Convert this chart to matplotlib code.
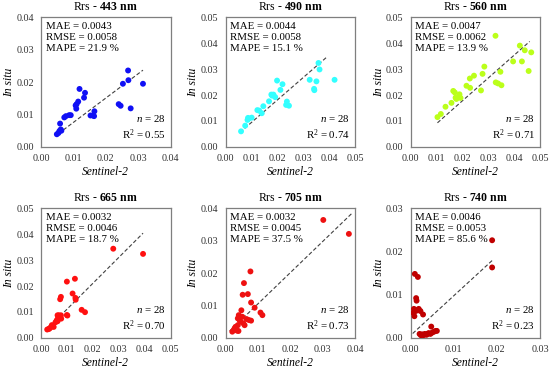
import matplotlib
matplotlib.use('Agg')
import matplotlib.pyplot as plt

plt.rcParams['font.family'] = ['Liberation Serif', 'DejaVu Serif']
plt.rcParams['mathtext.fontset'] = 'custom'
plt.rcParams['mathtext.rm'] = 'Liberation Serif'
plt.rcParams['mathtext.it'] = 'Liberation Serif:italic'
plt.rcParams['mathtext.bf'] = 'Liberation Serif:bold'

# ---- data ----
bands = ['443', '490', '560', '665', '705', '740']
colors = ['#1010f5', '#33ffff', '#bbff1a', '#ff1010', '#ee1111', '#c00000']
limits = [0.04, 0.05, 0.05, 0.05, 0.04, 0.03]
mae = ['0.0043', '0.0044', '0.0047', '0.0032', '0.0032', '0.0046']
rmse = ['0.0058', '0.0058', '0.0062', '0.0046', '0.0045', '0.0053']
mape = ['21.9', '15.1', '13.9', '18.7', '37.5', '85.6']
r2 = ['0.55', '0.74', '0.71', '0.70', '0.73', '0.23']
n_obs = [28, 28, 28, 28, 28, 28]

x443 = [0.0049, 0.0057, 0.0061, 0.0059, 0.0072, 0.0077, 0.0087, 0.0092, 0.0109, 0.0110,
        0.0115, 0.0119, 0.0133, 0.0136, 0.0153, 0.0161, 0.0165, 0.0164, 0.0240, 0.0246,
        0.0253, 0.0269, 0.0270, 0.0277, 0.0315, 0.0054, 0.0107, 0.0063]
y443 = [0.0039, 0.0049, 0.0054, 0.0072, 0.0091, 0.0095, 0.0098, 0.0098, 0.0118, 0.0132,
        0.0140, 0.0179, 0.0152, 0.0167, 0.0097, 0.0097, 0.0110, 0.0095, 0.0132, 0.0127,
        0.0195, 0.0236, 0.0206, 0.0119, 0.0195, 0.0043, 0.0128, 0.0050]

x490 = [0.0060, 0.0076, 0.0085, 0.0089, 0.0101, 0.0123, 0.0130, 0.0140, 0.0146, 0.0168,
        0.0177, 0.0185, 0.0192, 0.0199, 0.0212, 0.0220, 0.0234, 0.0237, 0.0245, 0.0325,
        0.0342, 0.0343, 0.0351, 0.0359, 0.0363, 0.0421, 0.0180, 0.0087]
y490 = [0.0060, 0.0082, 0.0104, 0.0109, 0.0113, 0.0142, 0.0140, 0.0130, 0.0157, 0.0176,
        0.0202, 0.0202, 0.0192, 0.0256, 0.0220, 0.0242, 0.0162, 0.0175, 0.0159, 0.0259,
        0.0224, 0.0219, 0.0253, 0.0324, 0.0299, 0.0259, 0.0198, 0.0112]

x560 = [0.0104, 0.0117, 0.0135, 0.0158, 0.0165, 0.0171, 0.0177, 0.0189, 0.0193, 0.0216,
        0.0229, 0.0230, 0.0245, 0.0272, 0.0278, 0.0285, 0.0328, 0.0329, 0.0338, 0.0347,
        0.0351, 0.0396, 0.0422, 0.0430, 0.0441, 0.0456, 0.0466, 0.0174]
y560 = [0.0115, 0.0127, 0.0155, 0.0170, 0.0216, 0.0210, 0.0185, 0.0203, 0.0189, 0.0236,
        0.0264, 0.0228, 0.0275, 0.0218, 0.0282, 0.0310, 0.0429, 0.0249, 0.0245, 0.0290,
        0.0238, 0.0330, 0.0391, 0.0330, 0.0373, 0.0293, 0.0365, 0.0190]

x665 = [0.0024, 0.0033, 0.0038, 0.0042, 0.0064, 0.0066, 0.0069, 0.0077, 0.0078, 0.0064,
        0.0074, 0.0077, 0.0100, 0.0102, 0.0100, 0.0122, 0.0131, 0.0134, 0.0133, 0.0157,
        0.0170, 0.0279, 0.0394, 0.0049, 0.0061, 0.0072, 0.0030, 0.0056]
y665 = [0.0032, 0.0036, 0.0041, 0.0049, 0.0064, 0.0076, 0.0087, 0.0087, 0.0074, 0.0087,
        0.0149, 0.0158, 0.0088, 0.0086, 0.0217, 0.0171, 0.0228, 0.0147, 0.0154, 0.0108,
        0.0099, 0.0344, 0.0324, 0.0042, 0.0068, 0.0075, 0.0034, 0.0060]

x705 = [0.0021, 0.0028, 0.0036, 0.0038, 0.0038, 0.0041, 0.0046, 0.0049, 0.0053, 0.0057,
        0.0059, 0.0052, 0.0069, 0.0072, 0.0079, 0.0079, 0.0077, 0.0090, 0.0108, 0.0114,
        0.0302, 0.0381, 0.0031, 0.0044, 0.0065, 0.0040, 0.0026, 0.0055]
y705 = [0.0019, 0.0029, 0.0022, 0.0039, 0.0060, 0.0070, 0.0050, 0.0085, 0.0133, 0.0169,
        0.0039, 0.0065, 0.0135, 0.0055, 0.0053, 0.0109, 0.0205, 0.0093, 0.0078, 0.0070,
        0.0364, 0.0321, 0.0034, 0.0054, 0.0058, 0.0021, 0.0024, 0.0045]

x740 = [0.0010, 0.0017, 0.0013, 0.0014, 0.0008, 0.0012, 0.0015, 0.0019, 0.0009, 0.0006,
        0.0029, 0.0023, 0.0021, 0.0027, 0.0033, 0.0039, 0.0046, 0.0048, 0.0050, 0.0054,
        0.0058, 0.0061, 0.0042, 0.0037, 0.0189, 0.0189, 0.0024, 0.0030]
y740 = [0.0148, 0.0141, 0.0092, 0.0086, 0.0067, 0.0062, 0.0064, 0.0067, 0.0050, 0.0058,
        0.0054, 0.0062, 0.0009, 0.0008, 0.0009, 0.0009, 0.0009, 0.0026, 0.0012, 0.0014,
        0.0016, 0.0016, 0.0011, 0.0007, 0.0226, 0.0163, 0.0006, 0.0006]

# fitted line end points (x0, x1), (y0, y1)
fit_x = [(0.0054, 0.0315), (0.0056, 0.0389), (0.0104, 0.0460),
         (0.0023, 0.0394), (0.0013, 0.0392), (0.0005, 0.0189)]
fit_y = [(0.0041, 0.0237), (0.0056, 0.0345), (0.0093, 0.0407),
         (0.0033, 0.0404), (0.0021, 0.0386), (0.0010, 0.0179)]

xs = [x443, x490, x560, x665, x705, x740]
ys = [y443, y490, y560, y665, y705, y740]

# ---- layout (figure fractions) ----
lefts = [0.0745, 0.41, 0.7464]
bottoms = [0.603, 0.087]
w, h = 0.2355, 0.35

fig = plt.figure(figsize=(5.5, 3.7), dpi=100)

for k in range(6):
    row, col = divmod(k, 3)
    ax = fig.add_axes([lefts[col], bottoms[row], w, h])
    lim = limits[k]

    ax.scatter(xs[k], ys[k], s=18, color=colors[k], edgecolors='none', zorder=3)
    ax.plot(fit_x[k], fit_y[k], linestyle=(0, (3.5, 2)), color='#404040', linewidth=0.8, zorder=2)

    ax.set_xlim(0, lim)
    ax.set_ylim(0, lim)
    ticks = [i * 0.01 for i in range(int(round(lim / 0.01)) + 1)]
    ax.set_xticks(ticks)
    ax.set_yticks(ticks)
    ax.set_xticklabels([f'{t:.2f}' for t in ticks])
    ax.set_yticklabels([f'{t:.2f}' for t in ticks])
    ax.tick_params(length=0, labelsize=7.3, pad=5, colors='#333333')
    for sp in ax.spines.values():
        sp.set_color('#7f7f7f')
        sp.set_linewidth(0.9)

    ax.set_title(r'Rrs - $\mathbf{' + bands[k] + r'\ nm}$', fontsize=8.5, pad=5)
    ax.set_xlabel('Sentinel-2', fontstyle='italic', fontsize=8.3, labelpad=2)
    ax.set_ylabel('In situ', fontstyle='italic', fontsize=8.3, labelpad=1)

    ax.text(0.035, 0.965, f'MAE = {mae[k]}\nRMSE = {rmse[k]}\nMAPE = {mape[k]} %',
            transform=ax.transAxes, ha='left', va='top', fontsize=7.8, linespacing=1.3)
    ax.text(0.96, 0.04, f'$n$ = {n_obs[k]}\nR$^2$ = {r2[k]}',
            transform=ax.transAxes, ha='right', va='bottom', fontsize=7.8, linespacing=1.3)

fig.savefig('out.png', dpi=100)
